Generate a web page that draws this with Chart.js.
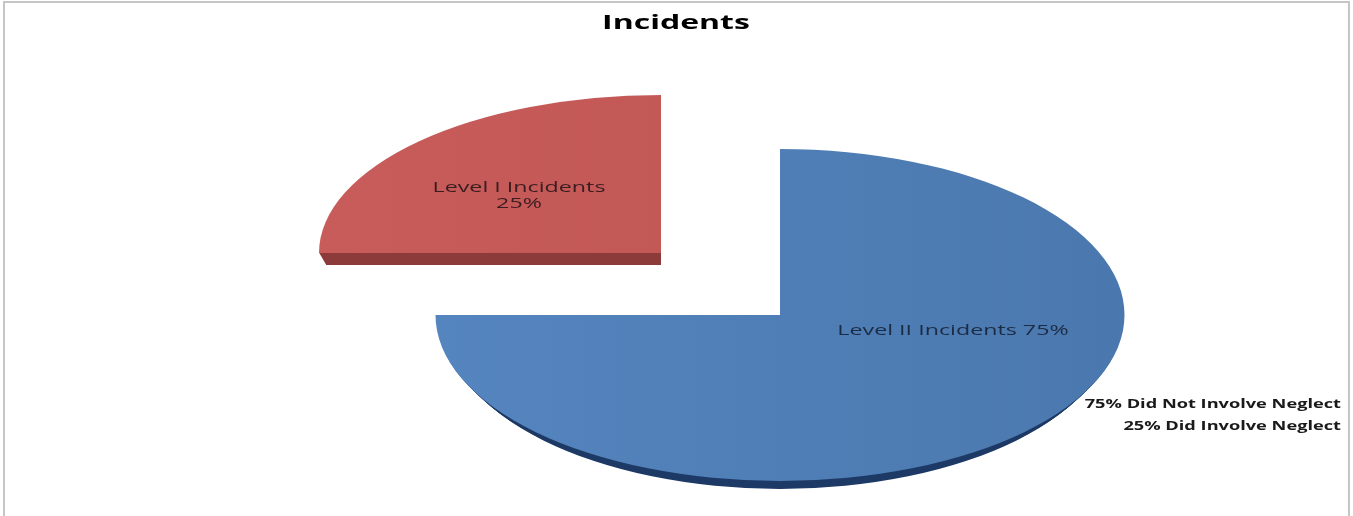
<!DOCTYPE html>
<html lang="en">
<head>
  <meta charset="UTF-8">
  <title>Incidents</title>
  <script src="https://cdn.jsdelivr.net/npm/chart.js"></script>
  <style>
    html, body { margin: 0; padding: 0; background: #fff; overflow: hidden; }
    #frame {
      position: absolute; left: 3px; top: 1px; width: 1343px; height: 515px;
      border: 2px solid #c6c6c6; border-bottom: none;
    }
    canvas { position: absolute; left: 0; top: 0; }
  </style>
</head>
<body>
  <div id="frame"></div>
  <canvas id="pie" width="1353" height="516"></canvas>
  <script>
    const chartTitle = 'Incidents';
    const categories = ['Level II Incidents', 'Level I Incidents'];
    const values = [75, 25];
    const sliceColors = ['#5080ba', '#c25857'];
    const notes = ['75% Did Not Involve Neglect', '25% Did Involve Neglect'];

    // where each exploded slice ends up on the page (the pie is squashed like the 3D original)
    const sliceBoxes = [
      { cx: 780, cy: 315, rx: 344.5, ry: 166, depth: 8, shrink: 0.0036, rim: '#1e3a66', left: '#5585bf', right: '#4a78ae' },
      { cx: 661, cy: 253, rx: 342, ry: 158, depth: 12, shrink: 0.0017, rim: '#8c3a3a', left: '#c75c5b', right: '#bf5553' }
    ];

    const squashPie = {
      id: 'squashPie',
      beforeDatasetsDraw(chart) {
        chart.getDatasetMeta(0).data.forEach((arc, i) => {
          if (arc.wrapped) return;
          arc.wrapped = true;
          const plainDraw = arc.draw;
          arc.draw = function (ctx, area) {
            const box = sliceBoxes[i];
            const opts = arc.options;
            const r = arc.outerRadius;
            ctx.save();
            ctx.translate(box.cx, box.cy);
            ctx.scale(box.rx / r, box.ry / r);
            // side of the slice: same shape pushed down, a bit narrower so it dies out at the ends
            const step = r / box.ry;
            for (let d = box.depth; d > 0; d--) {
              ctx.save();
              ctx.translate(0, d * step);
              ctx.scale(1 - d * box.shrink, 1);
              ctx.translate(-arc.x, -arc.y);
              arc.options = Object.assign({}, opts, { backgroundColor: box.rim });
              plainDraw.call(arc, ctx, area);
              ctx.restore();
            }
            ctx.translate(-arc.x, -arc.y);
            const grad = ctx.createLinearGradient(arc.x - r, 0, arc.x + r, 0);
            grad.addColorStop(0, box.left);
            grad.addColorStop(1, box.right);
            arc.options = Object.assign({}, opts, { backgroundColor: grad });
            plainDraw.call(arc, ctx, area);
            arc.options = opts;
            ctx.restore();
          };
        });
      }
    };

    function stretchedText(ctx, text, x, y, stretch, align) {
      ctx.save();
      ctx.translate(x, y);
      ctx.scale(stretch, 1);
      ctx.textAlign = align;
      ctx.textBaseline = 'middle';
      ctx.fillText(text, 0, 0);
      ctx.restore();
    }

    const chartTexts = {
      id: 'chartTexts',
      afterDatasetsDraw(chart) {
        const ctx = chart.ctx;
        ctx.font = 'bold 20px "Open Sans"';
        ctx.fillStyle = '#000';
        stretchedText(ctx, chartTitle, 676, 23, 1.6, 'center');
        ctx.font = '15px "Open Sans"';
        ctx.fillStyle = '#1b2c45';
        stretchedText(ctx, categories[0] + ' ' + values[0] + '%', 953, 331, 1.55, 'center');
        ctx.fillStyle = '#3b1c1f';
        stretchedText(ctx, categories[1], 519, 188, 1.55, 'center');
        stretchedText(ctx, values[1] + '%', 519, 204, 1.55, 'center');
        ctx.font = 'bold 13px "Open Sans"';
        ctx.fillStyle = '#1a1a1a';
        stretchedText(ctx, notes[0], 1341, 404, 1.4, 'right');
        stretchedText(ctx, notes[1], 1341, 426, 1.4, 'right');
      }
    };

    new Chart(document.getElementById('pie').getContext('2d'), {
      type: 'pie',
      data: {
        labels: categories,
        datasets: [{
          data: values,
          backgroundColor: sliceColors,
          borderWidth: 0,
          clip: false
        }]
      },
      options: {
        responsive: false,
        animation: false,
        rotation: 0,
        plugins: {
          legend: { display: false },
          tooltip: { enabled: false }
        }
      },
      plugins: [squashPie, chartTexts]
    });
  </script>
</body>
</html>
